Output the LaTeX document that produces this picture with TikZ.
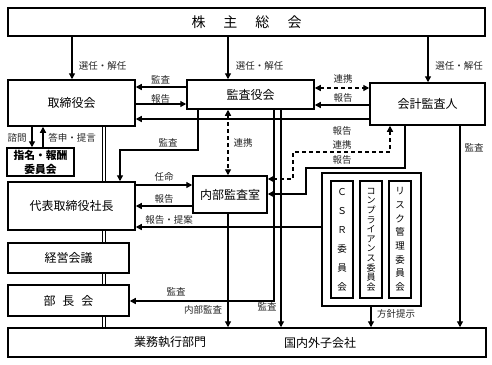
\documentclass[tikz,border=0pt]{standalone}
\usepackage{fontspec}
\newfontfamily\jp{Noto Sans CJK JP}
\usetikzlibrary{arrows.meta}
\begin{document}
\begin{tikzpicture}[x=1pt,y=-1pt,
  box/.style={draw,line width=1.5pt,fill=white,inner sep=0pt,font=\jp\fontsize{12}{14}\selectfont},
  cbox/.style={draw,line width=1.5pt,fill=white,inner sep=0pt,minimum width=22pt,minimum height=117pt,align=center},
  txt/.style={inner sep=0pt,font=\jp\fontsize{12}{14}\selectfont},
  ln/.style={line width=1.3pt},
  arr/.style={ln,-{Triangle[length=6pt,width=6pt]}},
  darr/.style={ln,dash pattern=on 4pt off 3pt,{Triangle[length=6pt,width=6pt]}-{Triangle[length=6pt,width=6pt]}},
  dbl/.style={line width=1pt,double distance=2pt},
  lbl/.style={inner sep=0pt,font=\jp\fontsize{9.5}{11}\selectfont,text=black!85}]
\useasboundingbox (0,0) rectangle (492,364);

% helper coordinates
\foreach \x in {32,43,72,104,120,198,228,274,281,293,306,371,390,405,428,460}
  \coordinate (x\x) at (\x,0);
\foreach \y in {87,88,104,105,119,150,152,168,179,185,194,206,227,301}
  \coordinate (y\y) at (0,\y);

% boxes
\node[box,minimum width=477pt,minimum height=28pt,font=\jp\fontsize{14}{16}\selectfont] (sh) at (246.5,22)
  {株\hspace{18pt}主\hspace{18pt}総\hspace{18pt}会};
\node[box,minimum width=127pt,minimum height=46pt] (tb) at (71.5,103) {取締役会};
\node[box,minimum width=127pt,minimum height=29pt] (ka) at (250.5,94.5) {監査役会};
\node[box,minimum width=115pt,minimum height=42pt] (ak) at (427.5,104) {会計監査人};
\node[box,minimum width=67pt,minimum height=28pt,align=center,font=\jp\bfseries\fontsize{10.8}{14}\selectfont] (nr) at (40.5,162)
  {指名・報酬\\委員会};
\node[box,minimum width=127pt,minimum height=48pt] (ds) at (71.5,206) {代表取締役社長};
\node[box,minimum width=74pt,minimum height=37pt] (nk) at (230,194.5) {内部監査室};
\node[box,minimum width=121pt,minimum height=30pt] (kk) at (68.5,258) {経営会議};
\node[box,minimum width=121pt,minimum height=31pt] (bc) at (68.5,300.5) {部\hspace{7pt}長\hspace{7pt}会};
\node[box,minimum width=478pt,minimum height=29pt] (gy) at (247,342.5) {};
\node[txt] (gy1) at (170,342.5) {業務執行部門};
\node[txt] (gy2) at (320,342.5) {国内外子会社};

% committees
\node[box,minimum width=99pt,minimum height=133pt] (cm) at (371.5,239.5) {};
\node[cbox,font=\jp\fontsize{9.5}{19}\selectfont] (csr) at (342,239.5) {Ｃ\\Ｓ\\Ｒ\\委\\員\\会};
\node[cbox,font=\jp\fontsize{9}{9.6}\selectfont] (cp) at (371,239.5) {コ\\ン\\プ\\ラ\\イ\\ア\\ン\\ス\\委\\員\\会};
\node[cbox,font=\jp\fontsize{9.5}{13.7}\selectfont] (rk) at (400,239.5) {リ\\ス\\ク\\管\\理\\委\\員\\会};

% double vertical line
\draw[dbl] (tb.south -| x104) -- (ds.north -| x104);
\draw[dbl] (ds.south -| x104) -- (kk.north -| x104);
\draw[dbl] (kk.south -| x104) -- (bc.north -| x104);
\draw[dbl] (bc.south -| x104) -- (gy.north -| x104);

% shareholders
\draw[arr] (sh.south -| x72) -- (tb.north -| x72);
\draw[arr] (sh.south -| x228) -- (ka.north -| x228);
\draw[arr] (sh.south -| x428) -- (ak.north -| x428);

% board level
\draw[arr] (ka.west |- y87) -- (tb.east |- y87);
\draw[arr] (tb.east |- y104) -- (ka.west |- y104);
\draw[arr] (ak.west |- y119) -- (tb.east |- y119);
\draw[darr] (ka.east |- y88) -- (ak.west |- y88);
\draw[arr] (ak.west |- y105) -- (ka.east |- y105);
\draw[arr] (tb.south -| x32) -- (nr.north -| x32);
\draw[arr] (nr.north -| x43) -- (tb.south -| x43);

% from audit board
\draw[arr] (ka.south -| x198) |- (x120 |- y150) -- (ds.north -| x120);
\draw[darr] (ka.south -| x228) -- (nk.north -| x228);
\draw[arr] (ka.south -| x274) |- (bc.east |- y301);
\draw[arr] (ka.south -| x281) -- (gy.north -| x281);

% president / internal audit
\draw[arr] (ds.east |- y185) -- (nk.west |- y185);
\draw[arr] (nk.west |- y206) -- (ds.east |- y206);
\draw[arr] (cm.west |- y227) -- (ds.east |- y227);
\draw[arr] (nk.south -| x228) -- (gy.north -| x228);

% accounting auditor
\draw[darr] (ak.south -| x390) |- (x293 |- y152) |- (nk.east |- y179);
\draw[arr] (ak.south -| x405) |- (x306 |- y168) |- (nk.east |- y194);
\draw[arr] (ak.south -| x460) -- (gy.north -| x460);
\draw[arr] (cm.south -| x371) -- (gy.north -| x371);

% labels
\node[lbl] (l1) at (102.5,66) {選任・解任};
\node[lbl] (l2) at (259.5,66) {選任・解任};
\node[lbl] (l3) at (459,66) {選任・解任};
\node[lbl] (l4) at (160.5,80) {監査};
\node[lbl] (l5) at (160.5,99) {報告};
\node[lbl] (l6) at (343,79) {連携};
\node[lbl] (l7) at (343,98) {報告};
\node[lbl] (l8) at (342,131) {報告};
\node[lbl] (l9) at (342,145) {連携};
\node[lbl] (l10) at (342,160) {報告};
\node[lbl] (l11) at (474,148) {監査};
\node[lbl] (l12) at (17,138) {諮問};
\node[lbl] (l13) at (72,138) {答申・提言};
\node[lbl] (l14) at (168,143) {監査};
\node[lbl] (l15) at (243,143) {連携};
\node[lbl] (l16) at (164,177) {任命};
\node[lbl] (l17) at (164,199) {報告};
\node[lbl] (l18) at (169,220) {報告・提案};
\node[lbl] (l19) at (176,292) {監査};
\node[lbl] (l20) at (203,310) {内部監査};
\node[lbl] (l21) at (267,307) {監査};
\node[lbl] (l22) at (396,314) {方針提示};
\end{tikzpicture}
\end{document}
